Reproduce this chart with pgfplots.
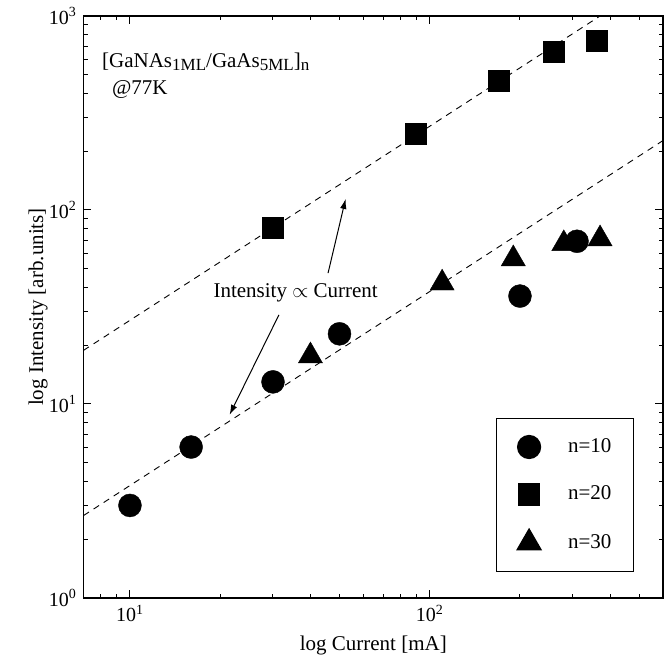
\documentclass[border=0pt]{standalone}
\usepackage{fontspec}
\setmainfont{Liberation Serif}
\usepackage{pgfplots}
\pgfplotsset{compat=1.18}
\usetikzlibrary{arrows.meta}

\begin{document}
\fontsize{21bp}{25bp}\selectfont
\begin{tikzpicture}
\begin{axis}[
    scale only axis,
    width=579.5bp, height=582bp,
    xmode=log, ymode=log,
    xmin=7, xmax=600, ymin=1, ymax=1000,
    font=\fontsize{21bp}{25bp}\selectfont,
    tick label style={font=\fontsize{20bp}{24bp}\selectfont},
    log number format basis/.code 2 args={#1\textsuperscript{\pgfmathprintnumber[assume math mode=true]{#2}}},
    axis line style={line width=1.4bp},
    every tick/.style={black, line width=1bp},
    major tick length=8bp, minor tick length=4.5bp,
    xlabel={log Current [mA]},
    ylabel={log Intensity [arb.units]},
    xlabel style={at={(axis description cs:0.5,-0.081)}, anchor=center},
    ylabel style={at={(axis description cs:-0.0785,0.5)}, anchor=center},
    legend style={at={(axis description cs:0.95,0.0447)}, anchor=south east,
        draw=black, line width=1.2bp, inner xsep=20bp, inner ysep=15.5bp,
        row sep=21.5bp, column sep=24bp,
        font=\fontsize{21bp}{25bp}\selectfont},
    legend cell align=left,
    legend image code/.code={
        \draw[#1] plot coordinates {(0bp,0bp)};
        \path[draw=none] (-13bp,-13bp) rectangle (13bp,13bp);
    },
]
% n=10
\addplot[only marks, mark=*, mark size=11.5bp, black] coordinates {
    (10,3.0) (16,6.0) (30,13) (50,23) (200,36) (310,69)
};
% n=20
\addplot[only marks, mark=square*, mark size=10.5bp, black] coordinates {
    (30,81) (90,247) (170,462) (260,655) (360,750)
};
% n=30
\addplot[only marks, mark=triangle*, mark size=13.9bp, black] coordinates {
    (40,17.7) (110,42) (190,56) (280,67) (370,71)
};
\legend{n=10, n=20, n=30}

% Intensity proportional to current guides
\addplot[forget plot, dashed, line width=0.9bp, dash pattern=on 6.5bp off 5.5bp] coordinates {(7,18.9) (370,1000)};
\addplot[forget plot, dashed, line width=0.9bp, dash pattern=on 6.5bp off 5.5bp] coordinates {(7,2.66) (600,228)};

\node[anchor=center] at (axis cs:35.7,37.3) {Intensity $\propto$ Current};
\draw[line width=1bp, -{Latex[length=10bp,width=6.5bp]}] (axis cs:45.8,47.3) -- (axis cs:52.4,114);
\draw[line width=1bp, -{Latex[length=10bp,width=6.5bp]}] (axis cs:31.4,28.8) -- (axis cs:21.5,8.8);

\node[anchor=west] at (rel axis cs:0.0198,0.921)
    {[GaNAs\raisebox{-0.35ex}{\fontsize{17bp}{17bp}\selectfont 1ML}/GaAs\raisebox{-0.35ex}{\fontsize{17bp}{17bp}\selectfont 5ML}]\raisebox{-0.35ex}{\fontsize{17bp}{17bp}\selectfont n}};
\node[anchor=west] at (rel axis cs:0.037,0.873) {@77K};

\coordinate (sw) at (rel axis cs:0,0);
\coordinate (ne) at (rel axis cs:1,1);
\end{axis}
\pgfresetboundingbox
\path[use as bounding box] ([shift={(-83.5bp,-60bp)}]sw) rectangle ([shift={(7bp,16bp)}]ne);
\end{tikzpicture}
\end{document}
